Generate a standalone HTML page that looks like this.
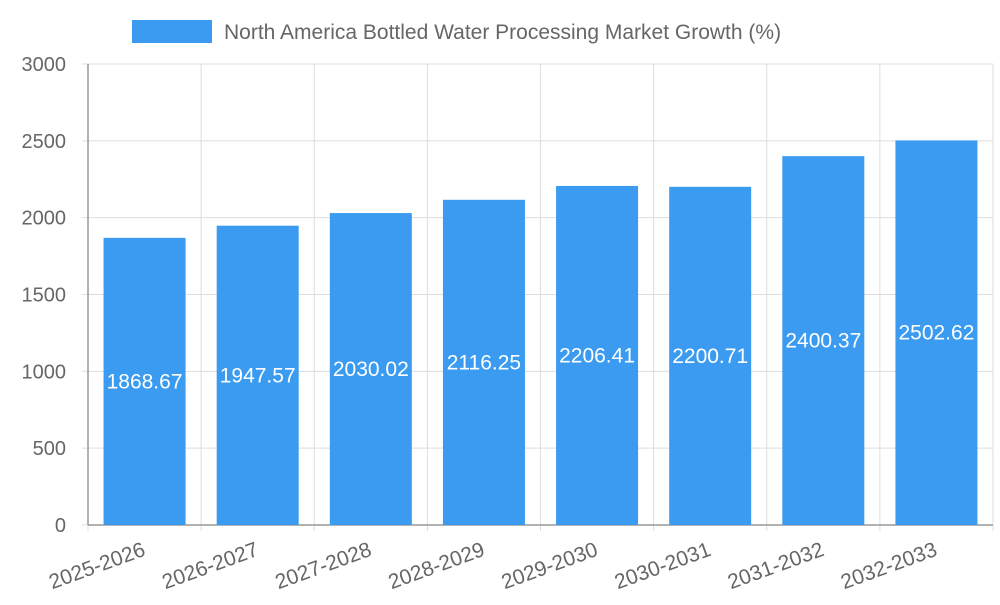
<!DOCTYPE html>
<html><head><meta charset="utf-8"><style>
html,body{margin:0;padding:0;background:#fff;}
svg text{font-family:"Liberation Sans",sans-serif;}
</style></head><body>
<svg id="c" width="1000" height="600" xmlns="http://www.w3.org/2000/svg">
<g>
<rect x="132" y="20" width="80" height="23" fill="#3a9bf0"></rect>
<text x="224" y="39" font-size="21" fill="#666">North America Bottled Water Processing Market Growth (%)</text>
</g>
</svg>
<script>
const categories=["2025-2026","2026-2027","2027-2028","2028-2029","2029-2030","2030-2031","2031-2032","2032-2033"];
const values=[1868.67,1947.57,2030.02,2116.25,2206.41,2200.71,2400.37,2502.62];
const yTicks=[0,500,1000,1500,2000,2500,3000];
const svg=document.getElementById('c');
const NS="http://www.w3.org/2000/svg";
const L=88,R=993,T=64,B=525,yMax=3000;
const bw=(R-L)/categories.length;
const y=v=>B-(v/yMax)*(B-T);
const xc=i=>L+bw*(i+0.5);
function mk(t,a){const e=document.createElementNS(NS,t);for(const k in a)e.setAttribute(k,a[k]);svg.appendChild(e);return e;}
yTicks.forEach(t=>{
  const g=mk('line',{x1:L-6,x2:R,y1:y(t),y2:y(t),stroke:'#ddd','stroke-width':1});
  
  
  const tx=mk('text',{x:66,y:y(t)+7,'text-anchor':'end','font-size':20,fill:'#666'});
  tx.textContent=t;
  
  
});
for(let i=0;i<=categories.length;i++){
  const x=L+bw*i;
  const g=mk('line',{x1:x,x2:x,y1:T,y2:B+6,stroke:'#ddd','stroke-width':1});
  
  
}
const ax=mk('line',{x1:L,x2:L,y1:T,y2:B,stroke:'#999','stroke-width':1.5});


const ax2=mk('line',{x1:L,x2:R,y1:B,y2:B,stroke:'#999','stroke-width':1.5});


values.forEach((v,i)=>{
  const w=82;
  const r=mk('rect',{x:xc(i)-w/2,y:y(v),width:w,height:B-y(v),fill:'#3a9bf0'});
  
  
  const t=mk('text',{x:xc(i),y:(y(v)+B)/2+7,'text-anchor':'middle','font-size':21,fill:'#fff'});
  t.textContent=v.toFixed(2);
  
  
  const xl=mk('text',{x:0,y:0,'text-anchor':'end','font-size':21,fill:'#666',transform:`translate(${xc(i)+2},${B+30}) rotate(-20)`});
  xl.textContent=categories[i];
  
  
});
</script>
</body></html>
